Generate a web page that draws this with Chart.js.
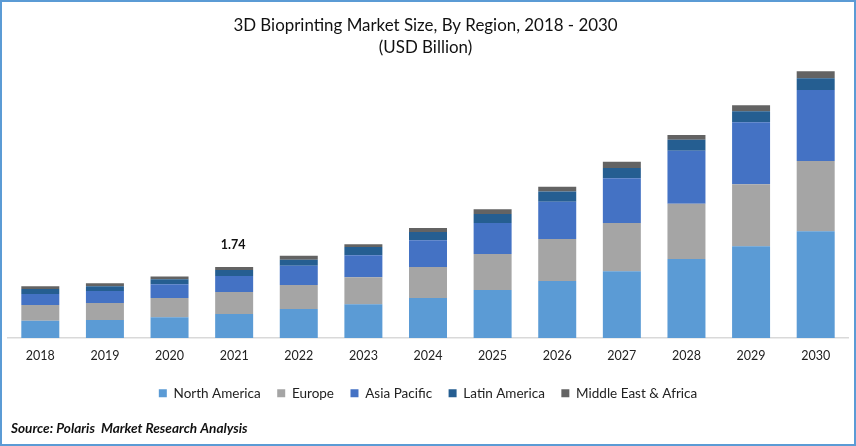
<!DOCTYPE html>
<html>
<head>
<meta charset="utf-8">
<script src="https://cdn.jsdelivr.net/npm/chart.js@4"></script>
<style>
html,body{margin:0;padding:0;background:#fff;}
#wrap{position:absolute;left:0;top:0;width:852px;height:442px;border:2px solid #5B9BD5;overflow:hidden;}
#c{position:absolute;left:-2px;top:-2px;}
</style>
</head>
<body>
<div id="wrap"><canvas id="c" width="856" height="446"></canvas></div>
<script>
const years = ['2018','2019','2020','2021','2022','2023','2024','2025','2026','2027','2028','2029','2030'];
const northAmerica = [0.42,0.44,0.51,0.59,0.71,0.83,0.98,1.18,1.40,1.64,1.94,2.25,2.62];
const europe       = [0.39,0.42,0.47,0.54,0.59,0.66,0.76,0.88,1.03,1.18,1.35,1.52,1.72];
const asiaPacific  = [0.27,0.29,0.34,0.39,0.47,0.54,0.66,0.76,0.91,1.10,1.30,1.52,1.74];
const latinAmerica = [0.12,0.12,0.12,0.15,0.15,0.20,0.20,0.22,0.25,0.25,0.27,0.27,0.29];
const middleEast   = [0.07,0.07,0.07,0.07,0.10,0.07,0.10,0.12,0.12,0.15,0.12,0.15,0.17];
const titleLines = ['3D Bioprinting Market Size, By Region, 2018 - 2030','(USD Billion)'];
const sourceText = 'Source: Polaris  Market Research Analysis';
const annotationText = '1.74';
const annotationIndex = 3;

const FONT = 'Lato, "Open Sans", sans-serif';

const extras = {
  id: 'extras',
  afterLayout(chart) {
    chart.titleBlock.left -= 5;
  },
  afterDraw(chart) {
    const ctx = chart.ctx, x = chart.scales.x, y = chart.scales.y;
    ctx.save();
    ctx.fillStyle = '#111';
    ctx.textAlign = 'center';
    ctx.textBaseline = 'middle';
    ctx.font = 'bold 12.5px ' + FONT;
    const total = northAmerica[annotationIndex] + europe[annotationIndex] + asiaPacific[annotationIndex] + latinAmerica[annotationIndex] + middleEast[annotationIndex];
    ctx.fillText(annotationText, x.getPixelForValue(annotationIndex) - 1, y.getPixelForValue(total) - 22);
    ctx.textAlign = 'left';
    ctx.fillStyle = '#111';
    ctx.font = 'italic bold 13.6px ' + FONT;
    ctx.fillText(sourceText, 11, 429);
    ctx.restore();
  }
};

new Chart(document.getElementById('c'), {
  type: 'bar',
  data: {
    labels: years,
    datasets: [
      {label:'North America', data:northAmerica, backgroundColor:'#5B9BD5'},
      {label:'Europe', data:europe, backgroundColor:'#A5A5A5'},
      {label:'Asia Pacific', data:asiaPacific, backgroundColor:'#4472C4'},
      {label:'Latin America', data:latinAmerica, backgroundColor:'#255E91'},
      {label:'Middle East & Africa', data:middleEast, backgroundColor:'#636363'}
    ]
  },
  options: {
    responsive: false,
    animation: false,
    devicePixelRatio: 1,
    layout: {padding: {left: 8, right: 8, top: 0, bottom: 36}},
    datasets: {bar: {categoryPercentage: 1, barPercentage: 0.588}},
    plugins: {
      title: {display:true, text:titleLines, color:'#111', font:{family:FONT, size:16.9, weight:'normal', lineHeight:1.3}, padding:{top:15,bottom:7.5}},
      legend: {position:'bottom', labels:{boxWidth:8, boxHeight:8, padding:16.5, color:'#222', font:{family:FONT, size:13.5}}},
      tooltip: {enabled:false}
    },
    scales: {
      x: {stacked:true, grid:{display:false, drawTicks:false}, border:{color:'#D9D9D9', width:1.5},
          ticks:{color:'#222', font:{family:FONT, size:12.5}, padding:10, maxRotation:0},
          afterFit(s){ s.height -= 3; }},
      y: {stacked:true, display:false, min:0, max:6.66}
    }
  },
  plugins:[extras]
});
</script>
</body>
</html>
